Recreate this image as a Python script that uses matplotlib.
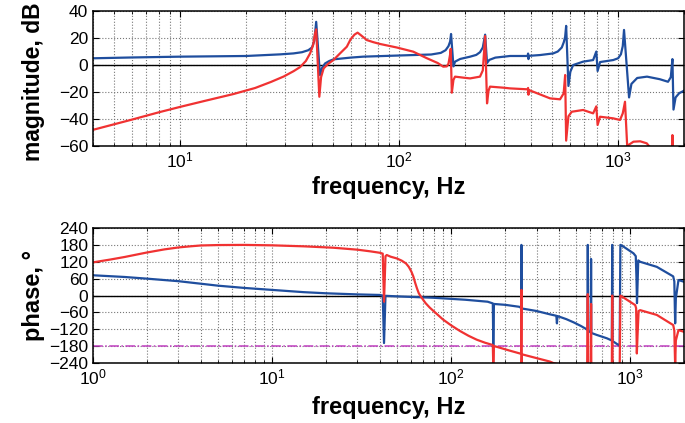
import matplotlib
matplotlib.use("Agg")
import matplotlib.pyplot as plt

plt.rcParams["font.family"] = ["Liberation Sans", "DejaVu Sans"]
plt.rcParams["mathtext.fontset"] = "custom"
plt.rcParams["mathtext.rm"] = "Liberation Sans"
plt.rcParams["mathtext.default"] = "regular"

# -----------------------------
# magnitude, dB
# -----------------------------
mag_blue_f = [4, 6, 10, 20, 28.6, 32.9, 36, 38.5, 40, 41, 41.8, 43.5, 44.5, 45.9, 48, 50.1,
              60, 68.5, 116, 140, 155, 163, 168, 171, 172.6, 177, 180, 190, 211, 225,
              234, 241, 247, 252, 258, 275, 321, 386, 388, 389.5, 391, 440, 505, 530,
              553, 565, 573, 579, 593, 605, 623, 692, 769, 795, 806, 827, 950, 1000,
              1030, 1050, 1064, 1122, 1150, 1222, 1355, 1550, 1690, 1740, 1770, 1790,
              1830, 1900, 2000]
mag_blue_db = [5, 5.6, 6.2, 6.7, 7.9, 8.6, 9.5, 11, 13, 18, 32, -7.4, -2, 1.2, 3, 4.2,
               5.5, 6.2, 7.4, 7.8, 9, 11, 14, 17.5, 23, -1, 2.5, 4.5, 6.2, 7.5,
               9.5, 13, 22.5, 1.5, 3.8, 5.5, 6.7, 6.7, 8.5, 4.4, 6.8, 7.4, 8.6, 10,
               13, 17, 21, 29, -15.5, -5, 0, 2.5, 3.7, 10, -4.4, 2.2, 3.7, 5,
               8, 14, 26, -24, -14, -9.6, -8.6, -10.5, -12.4, -9, 4.4, -33,
               -24, -20.9, -19]

mag_red_f = [4, 6, 8, 10, 13, 17.5, 22, 26, 29.7, 33, 35.3, 37.5, 39.2, 40.5, 41.3, 41.8,
             43.2, 44, 45.2, 47.5, 50.1, 54, 57.7, 60, 62.5, 64.6, 67, 71.2, 76, 81.8,
             97.5, 116, 134, 150, 159, 165, 168, 171, 172, 174, 177, 180, 200, 211, 234,
             241, 247, 252, 256, 260, 300, 321, 386, 388, 389.5, 391, 489, 543, 564, 573,
             579, 593, 614, 692, 769, 795, 806, 827, 950, 1020, 1050, 1075, 1103, 1114,
             1175, 1261, 1351, 1400, 1500, 1700, 1765, 1770, 1780, 2000]
mag_red_db = [-48, -40.5, -35, -31, -26.5, -21.5, -17, -12.5, -8.5, -4.5, -1.5, 3, 8.6, 15, 23.5, 26.4,
              -23.5, -9, -2.5, 1, 3.7, 9, 13.6, 19, 22.5, 24, 22, 18.5, 17, 15.6,
              13, 9.9, 5, 1.5, -1.2, -1, 1, 8, 12, -20.5, -11, -8.6, -9.5, -9.9, -8.6,
              -4, 21.5, -28.4, -19, -16, -16.8, -17.3, -18, -17, -22, -18.5, -24.7, -25.4, -21, -7.4,
              -56, -38, -34.6, -33.3, -35.8, -30.6, -44.4, -38.3, -39.5, -40.7, -35.8, -27.2, -64, -59.3,
              -56.8, -56.5, -58, -61, -66, -68, -64, -51.9, -72, -68]

# -----------------------------
# phase, degrees
# -----------------------------
ph_blue_f = [1, 1.5, 2, 3, 4, 5, 7, 10, 15, 20, 30, 40, 41.5, 42.2, 43, 50, 80, 120, 160,
             171, 172, 173.5, 200, 240, 246, 247, 248, 300, 357, 387, 390, 393, 440, 482,
             530, 561, 578, 580, 583, 603, 605, 607, 650, 741, 790, 794, 798, 861, 874,
             882, 898, 1044, 1075, 1085, 1092, 1100, 1110, 1137, 1409, 1740, 1765, 1784,
             1800, 1862, 2000]
ph_blue_deg = [72, 66, 60, 51, 42, 35, 27, 20, 12, 8, 4, 2, 0, -169, -1, -3, -8, -15, -22,
               -28, -176, -30, -33, -40, -44, 180, -46, -55, -67, -72, -99, -73, -84, -95,
               -108, -117, -122, 180, -126, -131, 130, -133, -140, -152, -160, 180, -162, -176, -179,
               180, 178, 150, 140, 60, -27, 40, 125, 120, 102, 68, 50, -99,
               -10, 55, 49]

ph_red_f = [1, 1.25, 1.5, 2, 2.5, 3, 3.5, 4, 5, 7, 10, 15, 22, 30, 35.5, 40, 41.5, 42.2,
            43, 43.7, 46, 49.7, 53, 56, 58, 60, 61.5, 63, 64.5, 66, 68, 72, 76, 82, 90,
            100, 112, 125, 139, 155, 171, 172, 173.5, 179, 210, 242, 246, 247, 247.5,
            248.5, 302, 357, 372, 450, 575, 580, 583, 603, 605, 607, 790, 794, 798, 874,
            882, 1067, 1080, 1090, 1100, 1115, 1137, 1409, 1740, 1765, 1784, 1800, 1862,
            2000]
ph_red_deg = [118, 128, 137, 153, 164, 171, 175, 178, 179.5, 180, 178.5, 175, 170, 163, 157, 152, 149, -22,
              140, 144, 138, 132, 124, 114, 102, 85, 68, 45, 25, 8, -5, -27, -43, -62, -85,
              -106, -126, -143, -157, -168, -176, -250, -180, -182, -195, -206, -207, 20, -250,
              -209, -223, -235, -240, -252, -265, 5, -265, -265, -30, -265, -265, 0, -265, -265,
              0, -34, -45, -206, -140, -55, -52, -69, -105, -125, -250, -160, -123,
              -129]

blue = "#1f4e9e"
red = "#f03232"


def style_axes(ax):
    ax.grid(True, which="major", axis="both", linestyle=":", color="#777777", linewidth=0.8)
    ax.grid(True, which="minor", axis="x", linestyle=":", color="#777777", linewidth=0.8)
    ax.tick_params(which="both", direction="in", top=True, right=True, labelsize=12.5)
    ax.tick_params(which="major", length=4)
    ax.tick_params(which="minor", length=2)
    for s in ax.spines.values():
        s.set_linewidth(1.1)


fig = plt.figure(figsize=(6.85, 4.23), dpi=100)

# magnitude
ax1 = fig.add_axes([0.1358, 0.6548, 0.8628, 0.3191])
ax1.axhline(0, color="k", linewidth=1)
ax1.semilogx(mag_blue_f, mag_blue_db, color=blue, linewidth=1.6)
ax1.semilogx(mag_red_f, mag_red_db, color=red, linewidth=1.6)
ax1.set_xlim(4, 2000)
ax1.set_ylim(-60, 40)
ax1.set_yticks([-60, -40, -20, 0, 20, 40])
style_axes(ax1)
ax1.set_xlabel("frequency, Hz", labelpad=4, fontsize=17, fontweight="bold")
ax1.set_ylabel("magnitude, dB", fontsize=16.5, fontweight="bold")
ax1.yaxis.set_label_coords(-0.081, 0.48)

# phase
ax2 = fig.add_axes([0.1358, 0.1418, 0.8628, 0.3191])
ax2.axhline(0, color="k", linewidth=1)
ax2.axhline(-180, color="#c040c0", linestyle="-.", linewidth=1.1)
ax2.semilogx(ph_blue_f, ph_blue_deg, color=blue, linewidth=1.6)
ax2.semilogx(ph_red_f, ph_red_deg, color=red, linewidth=1.6)
ax2.set_xlim(1, 2000)
ax2.set_ylim(-240, 240)
ax2.set_yticks([-240, -180, -120, -60, 0, 60, 120, 180, 240])
style_axes(ax2)
ax2.set_xlabel("frequency, Hz", labelpad=6, fontsize=17, fontweight="bold")
ax2.set_ylabel("phase, °", fontsize=17, fontweight="bold")
ax2.yaxis.set_label_coords(-0.081, 0.5)

fig.savefig("out.png", dpi=100)
